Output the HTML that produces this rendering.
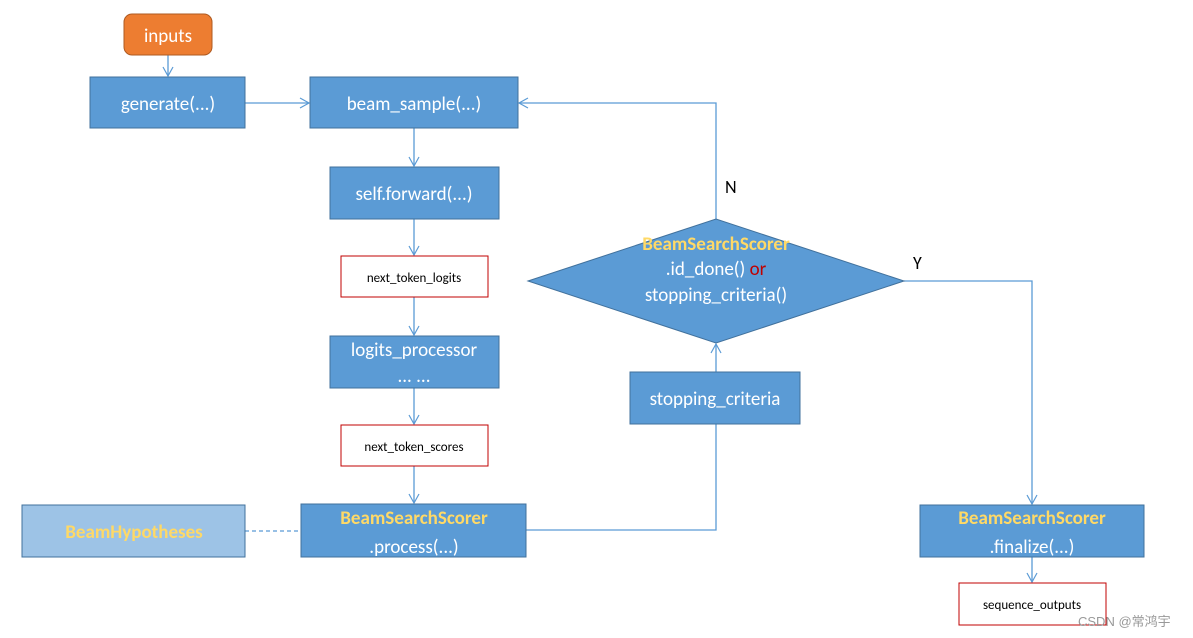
<!DOCTYPE html>
<html><head><meta charset="utf-8"><style>body{margin:0;background:#fff}svg{display:block}</style></head><body>
<svg width="1193" height="638" xmlns="http://www.w3.org/2000/svg" font-family="Calibri,'Liberation Sans',sans-serif">
<defs><marker id="a" markerWidth="12" markerHeight="12" refX="10" refY="6" orient="auto" markerUnits="userSpaceOnUse"><path d="M1,1 L10,6 L1,11" fill="none" stroke="#5B9BD5" stroke-width="1.2"/></marker></defs>
<g stroke="#5B9BD5" stroke-width="1.3" fill="none">
<line x1="168" y1="55" x2="168" y2="76" marker-end="url(#a)"/>
<line x1="245" y1="103" x2="309" y2="103" marker-end="url(#a)"/>
<line x1="414" y1="128" x2="414" y2="166" marker-end="url(#a)"/>
<line x1="414" y1="219" x2="414" y2="255" marker-end="url(#a)"/>
<line x1="414" y1="297" x2="414" y2="335" marker-end="url(#a)"/>
<line x1="414" y1="388" x2="414" y2="424" marker-end="url(#a)"/>
<line x1="414" y1="466" x2="414" y2="503" marker-end="url(#a)"/>
<polyline points="716,219 716,103 519,103" marker-end="url(#a)"/>
<polyline points="904,281 1032,281 1032,504" marker-end="url(#a)"/>
<polyline points="526,530 716,530 716,424"/>
<line x1="716" y1="372" x2="716" y2="344" marker-end="url(#a)"/>
<line x1="1032" y1="557" x2="1032" y2="582" marker-end="url(#a)"/>
<line x1="245" y1="531" x2="301" y2="531" stroke-dasharray="4,3"/>
</g>
<g stroke="#41719C" stroke-width="1" fill="#5B9BD5">
<rect x="124" y="14" width="88" height="41" rx="8" fill="#ED7D31" stroke="#AE5A21"/>
<rect x="90" y="77" width="155" height="51"/>
<rect x="310" y="77" width="208" height="51"/>
<rect x="330" y="167" width="169" height="52"/>
<rect x="330" y="336" width="169" height="52"/>
<rect x="22" y="505" width="223" height="52" fill="#9DC3E6"/>
<rect x="301" y="504" width="225" height="53"/>
<rect x="630" y="372" width="170" height="52"/>
<polygon points="528,281 716,219 904,281 716,343"/>
<rect x="920" y="505" width="224" height="52"/>
</g>
<g stroke="#C00000" stroke-width="1" fill="#fff">
<rect x="341" y="256" width="147" height="41"/>
<rect x="341" y="425" width="147" height="41"/>
<rect x="959" y="583" width="147" height="42"/>
</g>
<g fill="#fff" font-size="19" text-anchor="middle">
<text x="168" y="42">inputs</text>
<text x="168" y="110">generate(...)</text>
<text x="414" y="110">beam_sample(...)</text>
<text x="414" y="200">self.forward(...)</text>
<text x="414" y="356">logits_processor</text>
<text x="414" y="382">... ...</text>
<text x="715" y="405">stopping_criteria</text>
<text x="716" y="275">.id_done() <tspan fill="#C00000">or</tspan></text>
<text x="716" y="301">stopping_criteria()</text>
<text x="414" y="553">.process(...)</text>
<text x="1032" y="553">.finalize(...)</text>
</g>
<g fill="#FFD966" font-size="19" font-weight="bold" text-anchor="middle">
<text x="716" y="250">BeamSearchScorer</text>
<text x="414" y="524">BeamSearchScorer</text>
<text x="1032" y="524">BeamSearchScorer</text>
<text x="134" y="538">BeamHypotheses</text>
</g>
<g fill="#000" font-size="13" text-anchor="middle">
<text x="414" y="282">next_token_logits</text>
<text x="414" y="451">next_token_scores</text>
<text x="1032" y="609">sequence_outputs</text>
</g>
<text x="725" y="193" font-size="18">N</text>
<text x="913" y="269" font-size="18">Y</text>
<text x="1078" y="626" font-size="13" fill="#999" font-family="'Liberation Sans','Noto Sans CJK SC',sans-serif">CSDN @常鸿宇</text>
</svg>
</body></html>
